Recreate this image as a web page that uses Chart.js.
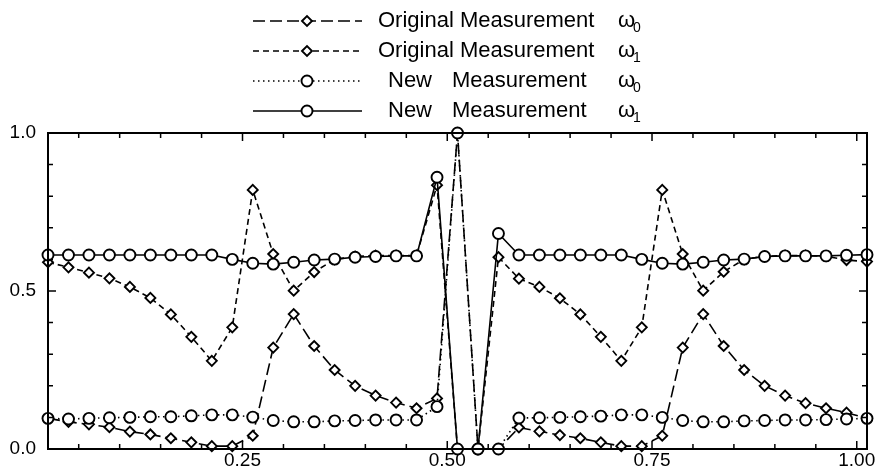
<!DOCTYPE html>
<html>
<head>
<meta charset="utf-8">
<script src="https://cdn.jsdelivr.net/npm/chart.js@4.4.0/dist/chart.umd.min.js"></script>
<style>
  html, body { margin: 0; padding: 0; background: #fff; }
</style>
</head>
<body>
<canvas id="chart" width="880" height="475"></canvas>
<script>
// sample positions along the x axis
const positions = [
  0.0125, 0.0375, 0.0625, 0.0875, 0.1125, 0.1375, 0.1625, 0.1875, 0.2125, 0.2375,
  0.2625, 0.2875, 0.3125, 0.3375, 0.3625, 0.3875, 0.4125, 0.4375, 0.4625, 0.4875,
  0.5125, 0.5375, 0.5625, 0.5875, 0.6125, 0.6375, 0.6625, 0.6875, 0.7125, 0.7375,
  0.7625, 0.7875, 0.8125, 0.8375, 0.8625, 0.8875, 0.9125, 0.9375, 0.9625, 0.9875,
  1.0125,
];

const originalW0 = [
  0.097, 0.086, 0.078, 0.069, 0.055, 0.046, 0.034, 0.021, 0.009, 0.009,
  0.042, 0.321, 0.427, 0.326, 0.250, 0.200, 0.169, 0.147, 0.129, 0.160,
  1.000, 0.000, 0.000, 0.068, 0.056, 0.044, 0.034, 0.021, 0.009, 0.009,
  0.042, 0.321, 0.427, 0.326, 0.250, 0.200, 0.169, 0.145, 0.129, 0.115,
  0.097,
];

const originalW1 = [
  0.591, 0.575, 0.558, 0.540, 0.513, 0.478, 0.426, 0.355, 0.279, 0.385,
  0.820, 0.617, 0.501, 0.560, 0.600, 0.609, 0.612, 0.612, 0.612, 0.835,
  0.000, 0.000, 0.607, 0.539, 0.513, 0.477, 0.426, 0.355, 0.279, 0.385,
  0.820, 0.617, 0.501, 0.561, 0.600, 0.610, 0.612, 0.612, 0.610, 0.598,
  0.593,
];

const newW0 = [
  0.097, 0.095, 0.097, 0.099, 0.100, 0.102, 0.102, 0.105, 0.108, 0.108,
  0.101, 0.090, 0.086, 0.086, 0.089, 0.090, 0.092, 0.092, 0.092, 0.134,
  1.000, 0.000, 0.000, 0.098, 0.099, 0.100, 0.102, 0.104, 0.108, 0.108,
  0.100, 0.090, 0.086, 0.086, 0.089, 0.090, 0.092, 0.092, 0.093, 0.095,
  0.097,
];

const newW1 = [
  0.614, 0.614, 0.614, 0.614, 0.614, 0.614, 0.614, 0.614, 0.614, 0.600,
  0.588, 0.585, 0.591, 0.598, 0.601, 0.607, 0.609, 0.611, 0.611, 0.860,
  0.000, 0.000, 0.682, 0.614, 0.614, 0.614, 0.614, 0.614, 0.614, 0.600,
  0.588, 0.585, 0.591, 0.598, 0.601, 0.609, 0.611, 0.611, 0.611, 0.613,
  0.615,
];

const xTickLabels = [0.25, 0.5, 0.75, 1.0];
const yTickLabels = [0.0, 0.5, 1.0];
const xMinorTicks = [0.05, 0.10, 0.15, 0.20, 0.25, 0.30, 0.35, 0.40, 0.45, 0.50,
  0.55, 0.60, 0.65, 0.70, 0.75, 0.80, 0.85, 0.90, 0.95, 1.00];
const yMinorTicks = [0.1, 0.2, 0.3, 0.4, 0.5, 0.6, 0.7, 0.8, 0.9];

const FONT = '"Liberation Sans", Arial, Helvetica, sans-serif';
Chart.defaults.font.family = FONT;
Chart.defaults.color = "#000";

const toPoints = (values) => values.map((y, i) => ({ x: positions[i], y }));

function series(label, values, dash, pointStyle, radius) {
  return {
    label,
    data: toPoints(values),
    borderColor: "#000",
    borderWidth: 1.6,
    borderDash: dash,
    pointStyle,
    pointRadius: radius,
    pointBorderWidth: 1.9,
    pointBackgroundColor: "#fff",
    pointBorderColor: "#000",
    tension: 0,
    clip: false,
  };
}

// first dataset is painted last, so circles sit on top of diamonds
const datasets = [
  series("New Measurement ω1", newW1, [], "circle", 5.5),
  series("New Measurement ω0", newW0, [1.5, 3.5], "circle", 5.5),
  series("Original Measurement ω1", originalW1, [6, 4], "rectRot", 5),
  series("Original Measurement ω0", originalW0, [12, 5], "rectRot", 5),
];

// legend rows from top to bottom: dataset index, first word, subscript
const legendOrder = [3, 2, 1, 0];
const legendWords = ["Original", "Original", "New", "New"];
const legendSubs = ["0", "1", "0", "1"];
const legendRowY = [21, 51, 81, 111];

const legendPlugin = {
  id: "sketchLegend",
  afterDraw(chart) {
    const ctx = chart.ctx;
    ctx.save();
    legendOrder.forEach((dsIndex, row) => {
      const ds = chart.data.datasets[dsIndex];
      const y = legendRowY[row];
      ctx.strokeStyle = "#000";
      ctx.lineWidth = ds.borderWidth;
      ctx.setLineDash(ds.borderDash);
      ctx.beginPath();
      ctx.moveTo(253, y);
      ctx.lineTo(362, y);
      ctx.stroke();
      ctx.setLineDash([]);
      ctx.fillStyle = "#fff";
      ctx.lineWidth = ds.pointBorderWidth;
      Chart.helpers.drawPoint(ctx, {
        pointStyle: ds.pointStyle,
        radius: ds.pointRadius,
        borderWidth: ds.pointBorderWidth,
        rotation: 0,
      }, 307, y);

      ctx.fillStyle = "#000";
      ctx.textBaseline = "middle";
      ctx.textAlign = "left";
      ctx.font = "22px " + FONT;
      if (legendWords[row] === "Original") {
        ctx.fillText("Original Measurement", 378, y);
      } else {
        ctx.fillText("New", 388, y);
        ctx.fillText("Measurement", 452, y);
      }
      ctx.fillText("ω", 618, y);
      ctx.font = "14px " + FONT;
      ctx.fillText(legendSubs[row], 633, y + 7);
    });
    ctx.restore();
  },
};

// box frame with inward tick marks on all four sides
const framePlugin = {
  id: "frame",
  afterDatasetsDraw(chart) {
    const { ctx, chartArea: a, scales } = chart;
    ctx.save();
    ctx.strokeStyle = "#000";
    ctx.lineWidth = 2;
    ctx.strokeRect(a.left, a.top, a.right - a.left, a.bottom - a.top);
    ctx.lineWidth = 1.5;
    ctx.beginPath();
    xMinorTicks.forEach((v) => {
      const px = scales.x.getPixelForValue(v);
      const len = xTickLabels.includes(v) ? 8 : 5;
      ctx.moveTo(px, a.bottom);
      ctx.lineTo(px, a.bottom - len);
      ctx.moveTo(px, a.top);
      ctx.lineTo(px, a.top + len);
    });
    yMinorTicks.forEach((v) => {
      const py = scales.y.getPixelForValue(v);
      const len = yTickLabels.includes(v) ? 8 : 5;
      ctx.moveTo(a.left, py);
      ctx.lineTo(a.left + len, py);
      ctx.moveTo(a.right, py);
      ctx.lineTo(a.right - len, py);
    });
    ctx.stroke();
    ctx.restore();
  },
};

new Chart(document.getElementById("chart"), {
  type: "line",
  data: { datasets },
  options: {
    responsive: false,
    animation: false,
    devicePixelRatio: 1,
    layout: { padding: { top: 133, right: 13, left: 0, bottom: 0 } },
    plugins: { legend: { display: false }, tooltip: { enabled: false } },
    scales: {
      x: {
        type: "linear",
        min: 0.0125,
        max: 1.0125,
        afterBuildTicks: (scale) => {
          scale.ticks = xTickLabels.map((value) => ({ value }));
        },
        afterFit: (scale) => {
          scale.height = 26;
        },
        ticks: {
          callback: (v) => v.toFixed(2),
          font: { size: 19 },
          color: "#000",
          padding: 0,
          maxRotation: 0,
          autoSkip: false,
        },
        grid: { display: false, drawTicks: false },
        border: { display: false },
      },
      y: {
        type: "linear",
        min: 0,
        max: 1,
        afterBuildTicks: (scale) => {
          scale.ticks = yTickLabels.map((value) => ({ value }));
        },
        afterFit: (scale) => {
          scale.width = 48;
        },
        ticks: {
          callback: (v) => v.toFixed(1),
          font: { size: 19 },
          color: "#000",
          padding: 12,
        },
        grid: { display: false, drawTicks: false },
        border: { display: false },
      },
    },
  },
  plugins: [framePlugin, legendPlugin],
});
</script>
</body>
</html>
